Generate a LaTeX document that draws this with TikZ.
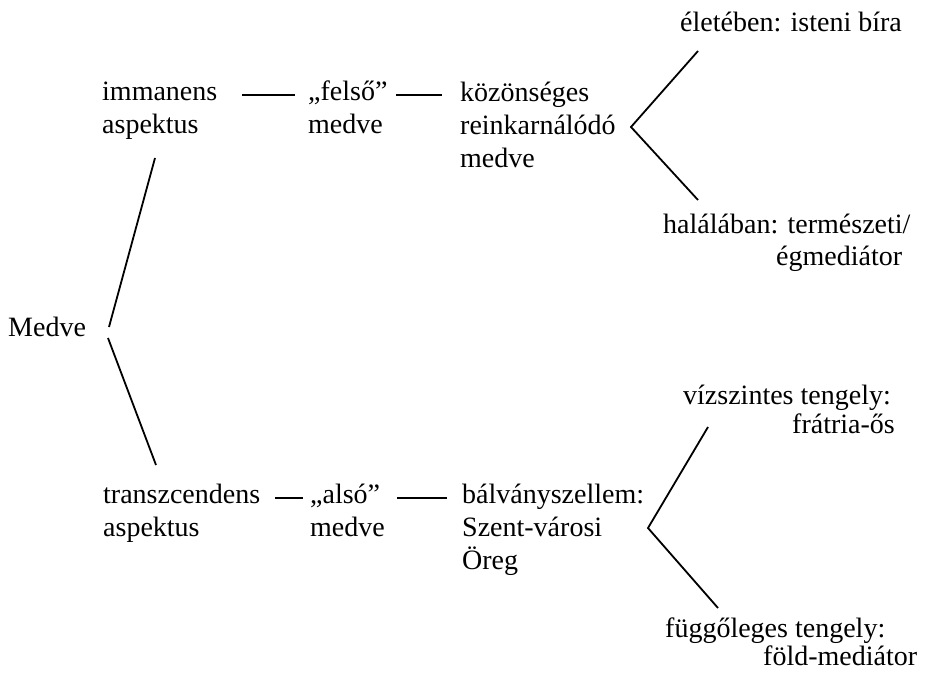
\documentclass[tikz,border=0pt]{standalone}
\usepackage{fontspec}
\setmainfont{Liberation Serif}
\newcommand{\stk}[1]{\begin{tabular}[t]{@{}l@{}}#1\end{tabular}}
\begin{document}
\begin{tikzpicture}[x=1pt,y=-1pt,
  lbl/.style={anchor=base west,inner sep=0pt,font=\fontsize{28}{33}\selectfont},
  conn/.style={line width=1.8pt,black}]
\useasboundingbox (0,0) rectangle (942,674);
% texts
\node[lbl] (medve) at (8,336) {Medve};
\node[lbl] (imm) at (102,101) {\stk{immanens\\aspektus}};
\node[lbl] (fel) at (308,101) {\stk{„felső”\\medve}};
\node[lbl] (koz) at (460,102) {\stk{közönséges\\reinkarnálódó\\medve}};
\node[lbl] (elet) at (680,32) {életében: isteni bíra};
\node[lbl] (hal) at (663,233) {halálában: természeti/};
\node[lbl] (hal2) at (776,265) {égmediátor};
\node[lbl] (tra) at (103,503) {\stk{transzcendens\\aspektus}};
\node[lbl] (als) at (310,503) {\stk{„alsó”\\medve}};
\node[lbl] (bal) at (462,503) {\stk{bálványszellem:\\Szent-városi\\Öreg}};
\node[lbl] (viz) at (683,404) {vízszintes tengely:};
\node[lbl] (viz2) at (792,433) {frátria-ős};
\node[lbl] (fug) at (665,637) {függőleges tengely:};
\node[lbl] (fug2) at (763,665) {föld-mediátor};
% connector end points
\coordinate (mU1) at (109,327); \coordinate (mU2) at (155,158);
\coordinate (mD1) at (108,338); \coordinate (mD2) at (156,465);
\coordinate (d1a) at (242,95); \coordinate (d1b) at (295,95);
\coordinate (d2a) at (396,95); \coordinate (d2b) at (442,95);
\coordinate (d3a) at (275,498); \coordinate (d3b) at (303,498);
\coordinate (d4a) at (397,498); \coordinate (d4b) at (447,498);
\coordinate (bUt) at (698,51); \coordinate (bUv) at (631,127); \coordinate (bUb) at (698,200);
\coordinate (bLt) at (708,427); \coordinate (bLv) at (648,528); \coordinate (bLb) at (718,608);
% connectors
\draw[conn] (mU1) -- (mU2);
\draw[conn] (mD1) -- (mD2);
\draw[conn] (d1a) -- (d1b);
\draw[conn] (d2a) -- (d2b);
\draw[conn] (d3a) -- (d3b);
\draw[conn] (d4a) -- (d4b);
\draw[conn] (bUt) -- (bUv) -- (bUb);
\draw[conn] (bLt) -- (bLv) -- (bLb);
\end{tikzpicture}
\end{document}
